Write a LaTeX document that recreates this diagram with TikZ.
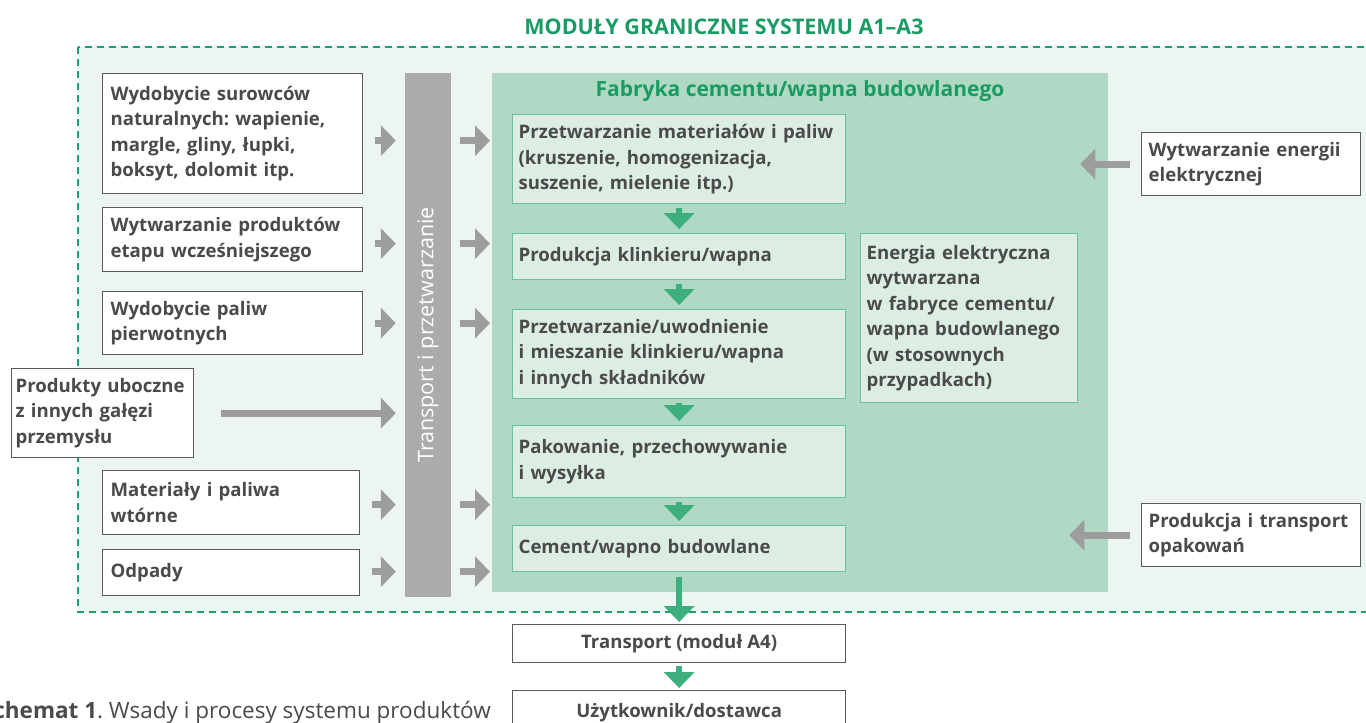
\documentclass[tikz,border=0pt]{standalone}
\usepackage{fontspec}
\setmainfont{Open Sans}
\usetikzlibrary{arrows.meta}
\definecolor{titlegreen}{HTML}{1A9B63}
\definecolor{dashgreen}{HTML}{1FA06B}
\definecolor{bgpale}{HTML}{EDF5F1}
\definecolor{fabfill}{HTML}{AFD8C5}
\definecolor{procfill}{HTML}{DCEEE4}
\definecolor{procline}{HTML}{69C29A}
\definecolor{arrgreen}{HTML}{3DAF7F}
\definecolor{arrgray}{HTML}{9D9D9D}
\definecolor{bargray}{HTML}{ABABAB}
\definecolor{boxline}{HTML}{5A5A5A}
\definecolor{txtgray}{HTML}{4A4A4A}

\begin{document}
\frenchspacing
\begin{tikzpicture}[x=1pt,y=-1pt,
    boxtext/.style={text=txtgray, font=\bfseries\fontsize{18.6}{25.5}\selectfont,
        align=left, inner xsep=8pt, inner ysep=0pt, anchor=north west},
    inbox/.style={boxtext, draw=boxline, line width=1.3pt, fill=white},
    procbox/.style={boxtext, draw=procline, line width=1.3pt, fill=procfill},
    garrow/.style={draw=arrgray, line width=7pt, -{Triangle[length=15pt,width=30pt]}},
    grarrow/.style={draw=arrgreen, line width=6.5pt, -{Triangle[length=16pt,width=30pt]}}
]
\useasboundingbox (0,0) rectangle (1366,723);

% granica systemu
\fill[bgpale] (78,47) rectangle (1380,612);
\draw[dashgreen, line width=2pt, dash pattern=on 7pt off 5pt] (78,47) rectangle (1380,612);
\node[text=titlegreen, font=\bfseries\fontsize{21.5}{24}\selectfont] (tytul) at (724,27) {MODUŁY GRANICZNE SYSTEMU A1–A3};

% fabryka
\node[fill=fabfill, minimum width=616pt, minimum height=519pt, anchor=north west, inner sep=0pt] (fab) at (492,73) {};
\node[text=titlegreen, font=\bfseries\fontsize{21}{24}\selectfont] (fabtyt) at (800,91) {Fabryka cementu/wapna budowlanego};

% transport
\node[fill=bargray, text=white, rotate=90, minimum width=524pt, minimum height=46pt, inner sep=0pt,
    font=\fontsize{21.5}{24}\selectfont] (bar) at (428,335) {Transport i przetwarzanie};

% wsady
\node[inbox, minimum width=260pt, minimum height=120pt, text width=244pt] (wyd) at (102,73)
    {Wydobycie surowców\\naturalnych: wapienie,\\margle, gliny, łupki,\\boksyt, dolomit itp.};
\node[inbox, minimum width=260pt, minimum height=64pt, text width=244pt] (etap) at (102,207)
    {Wytwarzanie produktów\\etapu wcześniejszego};
\node[inbox, minimum width=260pt, minimum height=63pt, text width=244pt] (pal) at (102,291)
    {Wydobycie paliw\\pierwotnych};
\node[inbox, minimum width=182pt, minimum height=89pt, text width=174pt, inner xsep=4pt] (prod) at (11,368)
    {Produkty uboczne\\z innych gałęzi\\przemysłu};
\node[inbox, minimum width=257pt, minimum height=64pt, text width=241pt] (mat) at (102,470)
    {Materiały i paliwa\\wtórne};
\node[inbox, minimum width=257pt, minimum height=46pt, text width=241pt] (odp) at (102,549)
    {Odpady};

% procesy
\node[procbox, minimum width=333pt, minimum height=89pt, text width=321pt, inner xsep=6pt] (p1) at (512,114)
    {Przetwarzanie materiałów i paliw\\(kruszenie, homogenizacja,\\suszenie, mielenie itp.)};
\node[procbox, minimum width=333pt, minimum height=46pt, text width=321pt, inner xsep=6pt] (p2) at (512,233)
    {Produkcja klinkieru/wapna};
\node[procbox, minimum width=333pt, minimum height=89pt, text width=321pt, inner xsep=6pt] (p3) at (512,309)
    {Przetwarzanie/uwodnienie\\i mieszanie klinkieru/wapna\\i innych składników};
\node[procbox, minimum width=333pt, minimum height=72pt, text width=321pt, inner xsep=6pt] (p4) at (512,425)
    {Pakowanie, przechowywanie\\i wysyłka};
\node[procbox, minimum width=333pt, minimum height=46pt, text width=321pt, inner xsep=6pt] (p5) at (512,525)
    {Cement/wapno budowlane};
\node[procbox, minimum width=217pt, minimum height=169pt, text width=205pt, inner xsep=6pt] (elbox) at (860,233)
    {Energia elektryczna\\wytwarzana\\w fabryce cementu/\\wapna budowlanego\\(w stosownych\\przypadkach)};

% z zewnatrz
\node[inbox, minimum width=219pt, minimum height=63pt, text width=205pt, inner xsep=7pt] (elektr) at (1141,132)
    {Wytwarzanie energii\\elektrycznej};
\node[inbox, minimum width=219pt, minimum height=63pt, text width=205pt, inner xsep=7pt] (opak) at (1141,503)
    {Produkcja i transport\\opakowań};

% dalej
\node[inbox, minimum width=333pt, minimum height=38pt, align=center] (trans) at (512,624)
    {Transport (moduł A4)};
\node[inbox, minimum width=333pt, minimum height=44pt, align=center] (uzyt) at (512,690)
    {Użytkownik/dostawca};

\node[text=txtgray, font=\fontsize{22.5}{26}\selectfont, anchor=base east, inner sep=0pt] (podpis) at (491,718)
    {\textbf{Schemat 1}. Wsady i procesy systemu produktów};

% strzalki
\foreach \n/\dy in {wyd/-7pt,etap/-4pt,pal/0pt,mat/-2pt,odp/1pt}{
    \draw[garrow, shorten <=12pt, shorten >=9pt] ([yshift=\dy]\n.east) -- ([yshift=\dy]\n.east -| bar.north);
    \draw[garrow, shorten <=9pt, shorten >=2pt] ([yshift=\dy]\n.east -| bar.south) -- ([yshift=\dy]\n.east -| fab.west);
}
\draw[garrow, shorten <=27pt, shorten >=9pt] (prod.east) -- (prod.east -| bar.north);
\draw[garrow, shorten <=11pt, shorten >=2pt] (elektr.west) -- (elektr.west -| elbox.east);
\draw[garrow, shorten <=11pt, shorten >=-9pt] (opak.west) -- (opak.west -| elbox.east);

\foreach \a/\b in {p1/p2,p2/p3,p3/p4,p4/p5}
    \draw[grarrow, shorten <=4pt, shorten >=4pt] (\a) -- (\b);
\draw[grarrow, shorten <=5pt, shorten >=2pt] (p5) -- (trans);
\draw[grarrow, shorten <=3pt, shorten >=2pt] (trans) -- (uzyt);
\end{tikzpicture}
\end{document}
